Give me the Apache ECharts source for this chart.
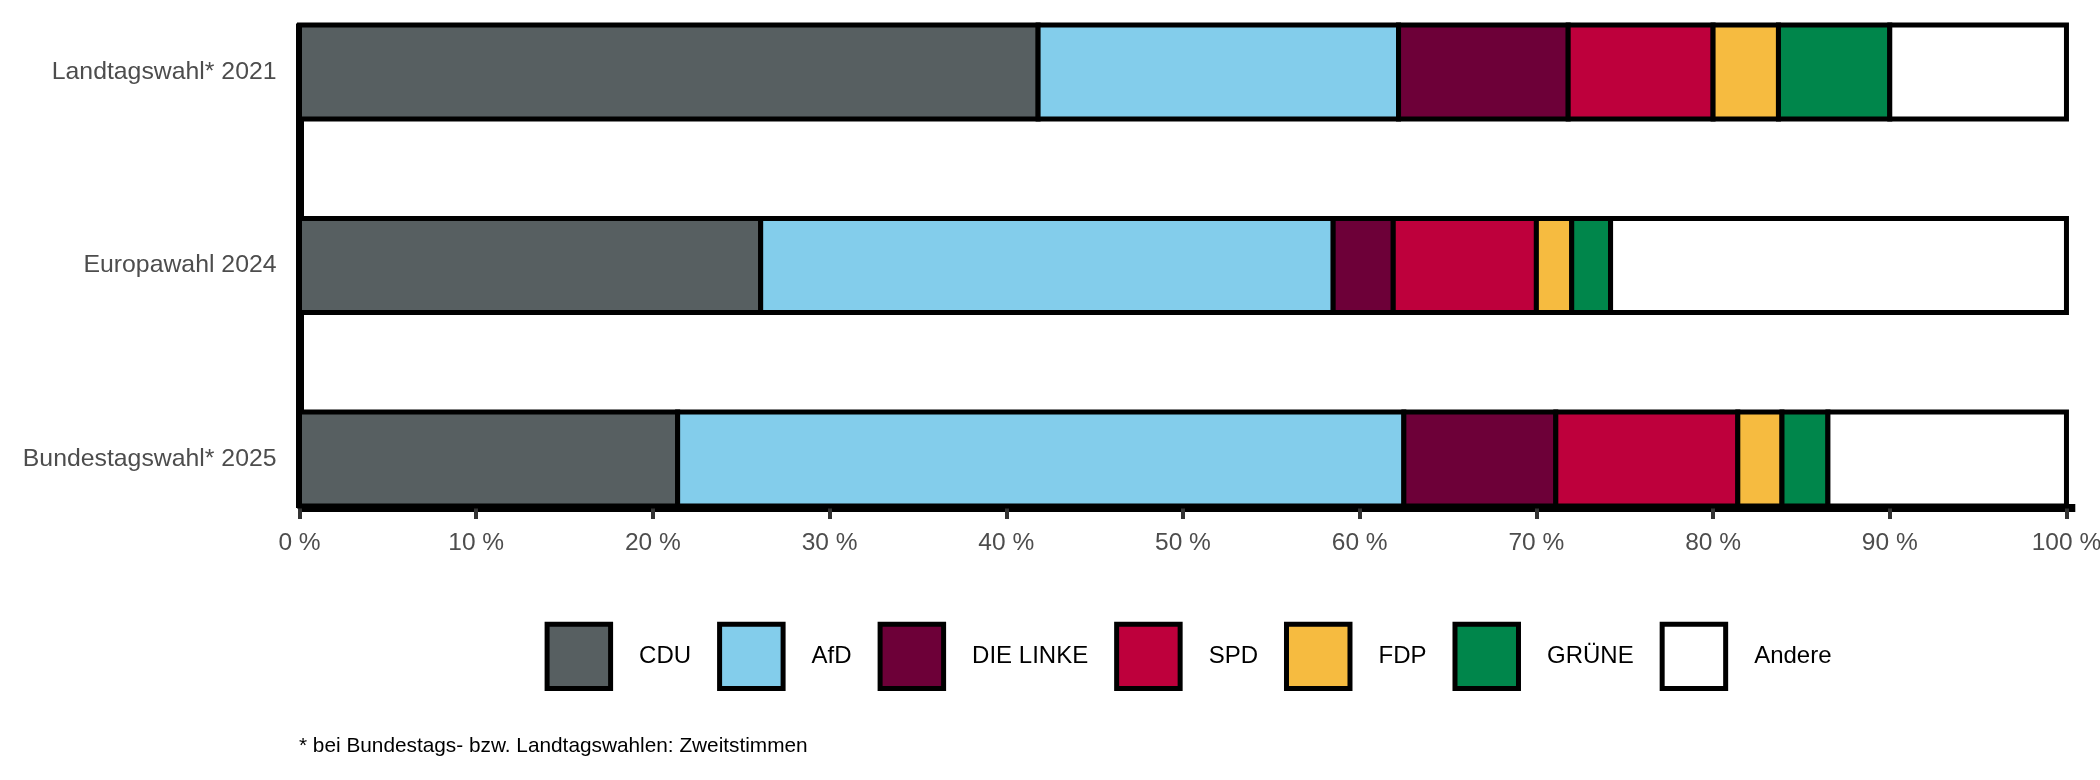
<!DOCTYPE html>
<html>
<head>
<meta charset="utf-8">
<script src="https://cdn.jsdelivr.net/npm/echarts@6/dist/echarts.min.js"></script>
<style>
html,body{margin:0;padding:0;background:#fff;}
#chart{width:2100px;height:780px;}
</style>
</head>
<body>
<div id="chart"></div>
<script>
const categories = ['Landtagswahl* 2021', 'Europawahl 2024', 'Bundestagswahl* 2025'];
const parties = ['CDU', 'AfD', 'DIE LINKE', 'SPD', 'FDP', 'GRÜNE', 'Andere'];
const cdu    = [41.8, 26.1, 21.4];
const afd    = [20.4, 32.4, 41.1];
const linke  = [9.6, 3.4, 8.6];
const spd    = [8.2, 8.1, 10.3];
const fdp    = [3.7, 2.0, 2.5];
const gruene = [6.3, 2.2, 2.6];
const andere = [10.0, 25.8, 13.5];
const xTicks = [0, 10, 20, 30, 40, 50, 60, 70, 80, 90, 100];
const footnote = '* bei Bundestags- bzw. Landtagswahlen: Zweitstimmen';

const seriesValues = [cdu, afd, linke, spd, fdp, gruene, andere];
const colors = ['#575F61', '#83CDEB', '#6D0038', '#BE003C', '#F6BB40', '#00864B', '#FFFFFF'];

const FONT = '"Liberation Sans", Arial, sans-serif';
const LEFT = 299.5, RIGHT = 24.7, XMAX = 100.5;
const BAR_FRAC = 0.485;
const BORDER = 5;

// stacked segments [start, end, categoryIndex] built from the value arrays
const running = categories.map(() => 0);
const segmentData = seriesValues.map(vals => vals.map((v, ci) => {
  const s = running[ci];
  running[ci] = s + v;
  return [s, s + v, ci];
}));

function renderSegment(params, api) {
  const ci = api.value(2);
  const p0 = api.coord([api.value(0), ci]);
  const p1 = api.coord([api.value(1), ci]);
  const h = api.size([0, 1])[1] * BAR_FRAC;
  return {
    type: 'rect',
    shape: {x: p0[0], y: p0[1] - h / 2, width: p1[0] - p0[0], height: h},
    style: {fill: api.visual('color'), stroke: '#000', lineWidth: BORDER}
  };
}

const chart = echarts.init(document.getElementById('chart'), null, {renderer: 'canvas'});
chart.setOption({
  animation: false,
  backgroundColor: '#ffffff',
  textStyle: {fontFamily: FONT},
  title: {
    text: footnote,
    left: 299,
    top: 736,
    padding: 0,
    textStyle: {fontFamily: FONT, fontSize: 20.8, fontWeight: 'normal', color: '#000'}
  },
  legend: {
    data: parties,
    left: 544.6,
    top: 621.7,
    padding: 0,
    itemWidth: 63.5,
    itemHeight: 64.3,
    itemGap: 26,
    icon: 'rect',
    itemStyle: {borderColor: '#000', borderWidth: BORDER},
    textStyle: {fontFamily: FONT, fontSize: 24, color: '#000', padding: [0, 0, 0, 23.5]}
  },
  grid: [
    {left: LEFT, right: RIGHT, top: -24.75, height: 580.5, containLabel: false, outerBoundsMode: 'none'},
    {left: LEFT, right: RIGHT, top: 23.5, bottom: 272, containLabel: false, outerBoundsMode: 'none'}
  ],
  xAxis: [
    {type: 'value', gridIndex: 0, min: 0, max: XMAX, show: false},
    {
      type: 'value', gridIndex: 1, min: 0, max: XMAX, interval: 10,
      axisLine: {show: true, lineStyle: {color: '#000', width: 8, cap: 'butt'}},
      axisTick: {show: true, customValues: xTicks, length: 11, lineStyle: {color: '#333', width: 4}},
      axisLabel: {show: true, customValues: xTicks, margin: 23, fontFamily: FONT, fontSize: 24.5, color: '#4d4d4d',
        formatter: v => v + ' %'},
      splitLine: {show: false}
    }
  ],
  yAxis: [
    {
      type: 'category', gridIndex: 0, data: categories, inverse: true,
      axisLine: {show: false}, axisTick: {show: false},
      axisLabel: {margin: 23, fontFamily: FONT, fontSize: 24.8, color: '#4d4d4d'},
      splitLine: {show: false}
    },
    {
      type: 'value', gridIndex: 1, min: 0, max: 1,
      axisLine: {show: true, lineStyle: {color: '#000', width: 8, cap: 'butt'}},
      axisTick: {show: false}, axisLabel: {show: false}, splitLine: {show: false}
    }
  ],
  series: parties.map((p, i) => ({
    name: p,
    type: 'custom',
    xAxisIndex: 0,
    yAxisIndex: 0,
    clip: false,
    renderItem: renderSegment,
    encode: {x: [0, 1], y: 2},
    data: segmentData[i],
    itemStyle: {color: colors[i]},
    emphasis: {disabled: true}
  }))
});
</script>
</body>
</html>
